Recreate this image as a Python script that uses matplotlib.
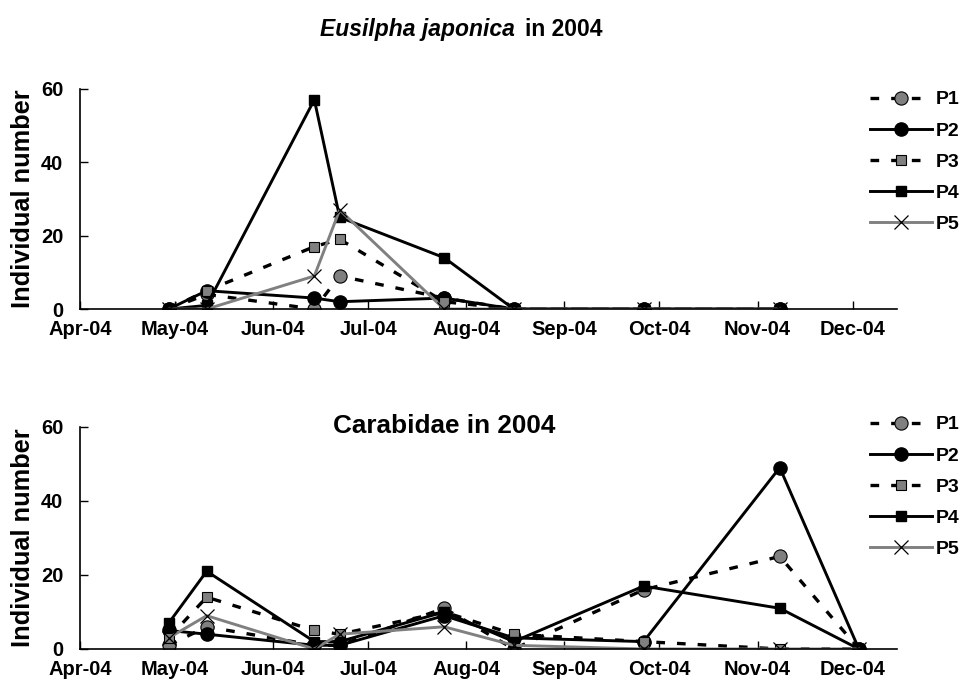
import numpy as np
import matplotlib
matplotlib.use("Agg")
import matplotlib.pyplot as plt
import matplotlib.dates as mdates

plt.rcParams['font.family'] = ['Liberation Sans', 'DejaVu Sans']
plt.rcParams['font.weight'] = 'bold'

# sampling dates
dates_top = np.array(['2004-04-29', '2004-05-11', '2004-06-14', '2004-06-22',
                      '2004-07-25', '2004-08-16', '2004-09-26', '2004-11-08'],
                     dtype='datetime64[D]')
dates_bot = np.array(['2004-04-29', '2004-05-11', '2004-06-14', '2004-06-22',
                      '2004-07-25', '2004-08-16', '2004-09-26', '2004-11-08',
                      '2004-12-03'], dtype='datetime64[D]')

# Eusilpha japonica counts
eus_p1 = [0, 4, 0, 9, 3, 0, 0, 0]
eus_p2 = [0, 5, 3, 2, 3, 0, 0, 0]
eus_p3 = [0, 5, 17, 19, 2, 0, 0, 0]
eus_p4 = [0, 1, 57, 25, 14, 0, 0, 0]
eus_p5 = [0, 0, 9, 27, 0, 0, 0, 0]

# Carabidae counts
car_p1 = [1, 6, 1, 1, 11, 0, 16, 25, 0]
car_p2 = [5, 4, 1, 1, 9, 3, 2, 49, 0]
car_p3 = [3, 14, 5, 4, 10, 4, 2, 0, 0]
car_p4 = [7, 21, 2, 2, 10, 2, 17, 11, 0]
car_p5 = [3, 9, 0, 4, 6, 1, 0, 0, 0]

labels = ['P1', 'P2', 'P3', 'P4', 'P5']
month_ticks = np.arange(np.datetime64('2004-04'), np.datetime64('2005-01'),
                        dtype='datetime64[M]').astype('datetime64[D]')

GRAY = '#808080'
dash = (0, (2.6, 3.6))

styles = [
    dict(color='black', ls=dash, lw=2.4, marker='o', ms=9.5, mfc=GRAY, mec='black', mew=0.8),
    dict(color='black', ls='-', lw=2.1, marker='o', ms=9.5, mfc='black', mec='black'),
    dict(color='black', ls=dash, lw=2.4, marker='s', ms=7, mfc=GRAY, mec='black', mew=0.8),
    dict(color='black', ls='-', lw=2.1, marker='s', ms=7, mfc='black', mec='black'),
    dict(color=GRAY, ls='-', lw=2.1, marker='x', ms=10, mfc='none', mec='black', mew=0.9),
]


def draw_panel(ax, dates, series, legend_y):
    for vals, lab, st in zip(series, labels, styles):
        ax.plot(dates, vals, label=lab, **st)
    ax.set_xlim(np.datetime64('2004-04-01'), np.datetime64('2004-12-15'))
    ax.set_ylim(0, 60)
    ax.set_yticks([0, 20, 40, 60])
    ax.set_xticks(month_ticks)
    ax.xaxis.set_major_formatter(mdates.DateFormatter('%b-%y'))
    ax.spines['top'].set_visible(False)
    ax.spines['right'].set_visible(False)
    ax.spines['left'].set_linewidth(1.2)
    ax.spines['bottom'].set_linewidth(1.2)
    ax.tick_params(direction='in', length=6, width=1, labelsize=14.5)
    ax.tick_params(axis='y', pad=12)
    ax.tick_params(axis='x', pad=8)
    ax.set_ylabel('Individual number', fontsize=18.3, fontweight='bold', labelpad=4)
    for t in ax.get_xticklabels() + ax.get_yticklabels():
        t.set_fontweight('bold')
    ax.legend(loc='upper left', bbox_to_anchor=(0.905, legend_y),
              bbox_transform=ax.figure.transFigure, frameon=False,
              fontsize=14, handlelength=3.2, handletextpad=0.2,
              labelspacing=0.7, borderaxespad=0, borderpad=0)


fig = plt.figure(figsize=(9.61, 6.93), dpi=100)
ax1 = fig.add_axes([0.0833, 0.554, 0.85, 0.318])
ax2 = fig.add_axes([0.0833, 0.0635, 0.85, 0.3205])

draw_panel(ax1, dates_top, [eus_p1, eus_p2, eus_p3, eus_p4, eus_p5], 0.869)
draw_panel(ax2, dates_bot, [car_p1, car_p2, car_p3, car_p4, car_p5], 0.400)

fig.text(0.536, 0.958, 'Eusilpha japonica', ha='right', va='center',
         fontsize=16.5, fontweight='bold', style='italic')
fig.text(0.546, 0.958, 'in 2004', ha='left', va='center',
         fontsize=16.5, fontweight='bold')
ax2.text(0.462, 0.385, 'Carabidae in 2004', transform=fig.transFigure,
         ha='center', va='center', fontsize=18.8, fontweight='bold')

fig.savefig('out.png', dpi=100)
